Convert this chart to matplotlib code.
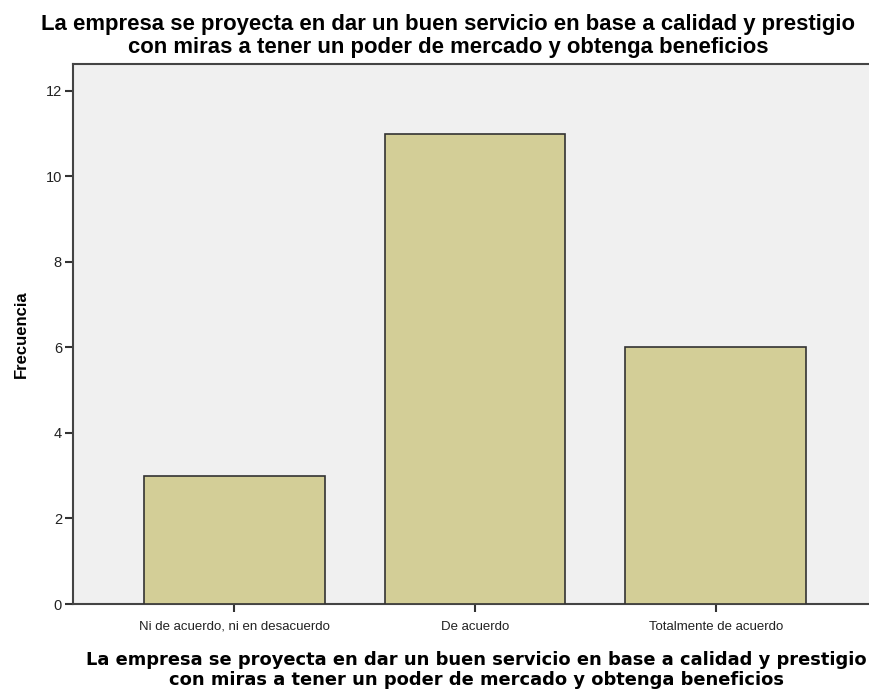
import matplotlib
matplotlib.use("Agg")
import matplotlib.pyplot as plt

# datos
categorias = ["Ni de acuerdo, ni en desacuerdo", "De acuerdo", "Totalmente de acuerdo"]
frecuencias = [3, 11, 6]
y_ticks = [0, 2, 4, 6, 8, 10, 12]
titulo = ("La empresa se proyecta en dar un buen servicio en base a calidad y prestigio\n"
          "con miras a tener un poder de mercado y obtenga beneficios")

W, H = 870, 691
fig = plt.figure(figsize=(W / 100, H / 100), dpi=100)
fig.patch.set_facecolor("white")

# ejes en pixeles -> fracciones de figura
left, right, top, bottom = 73, 877, 64, 604
ax = fig.add_axes([left / W, 1 - bottom / H, (right - left) / W, (bottom - top) / H])
ax.set_facecolor("#f0f0f0")

x = range(len(categorias))
ax.bar(x, frecuencias, width=0.75, color="#d3ce97", edgecolor="#333333", linewidth=1.2, zorder=3)

ax.set_xlim(-0.67, 2.67)
ax.set_ylim(0, 12.63)
ax.set_yticks(y_ticks)
ax.set_yticklabels([str(v) for v in y_ticks], fontsize=10.5, family="Liberation Sans", color="#222222")
ax.set_xticks(list(x))
ax.set_xticklabels(categorias, fontsize=9.5, family="Liberation Sans", color="#222222")
ax.tick_params(axis="both", length=6, width=1.5, color="#333333")
ax.tick_params(axis="x", pad=6)
ax.tick_params(axis="y", pad=2)

for s in ["left", "bottom", "top"]:
    ax.spines[s].set_color("#444444")
    ax.spines[s].set_linewidth(1.5)
ax.spines["right"].set_visible(False)

ax.set_ylabel("Frecuencia", fontsize=12, fontweight="bold", family="Liberation Sans", labelpad=12)

fig.text(0.5 * (40 + 857) / W, 1 - 36 / H, titulo, ha="center", va="center",
         fontsize=15.9, fontweight="bold", family="Liberation Sans", linespacing=1.15)
fig.text((88 + 865) / 2 / W, 1 - 670 / H, titulo, ha="center", va="center",
         fontsize=12.85, fontweight="bold", family="DejaVu Sans", linespacing=1.15)

fig.savefig("out.png", dpi=100)
